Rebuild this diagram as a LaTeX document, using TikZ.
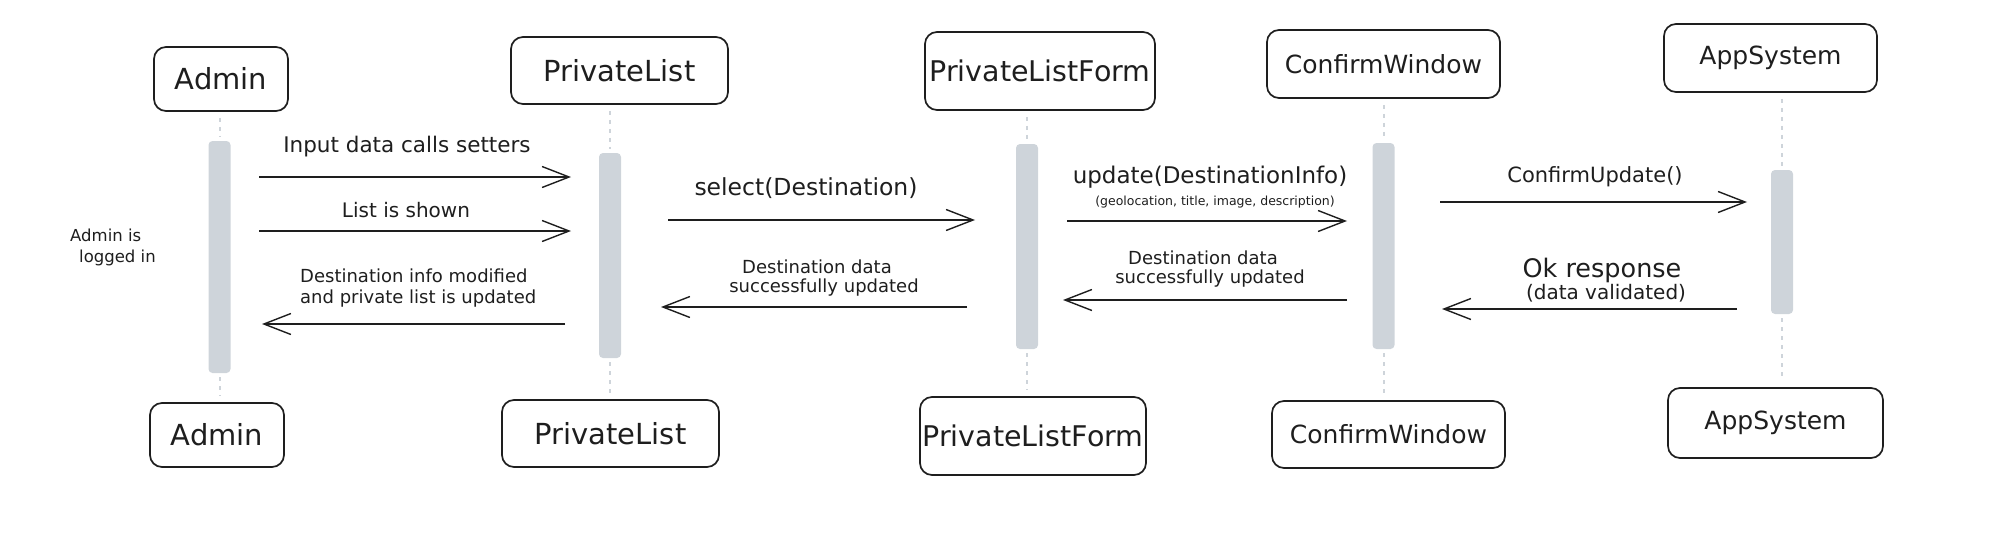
\documentclass[tikz,border=0pt]{standalone}
\usepackage{fontspec}
\setmainfont{DejaVu Sans}
\usetikzlibrary{arrows.meta}
\definecolor{barc}{HTML}{CED4DA}
\definecolor{ink}{HTML}{1E1E1E}
\begin{document}
\begin{tikzpicture}[x=1pt,y=-1pt,
  actor/.style={draw=ink, line width=1.7pt, rounded corners=12pt, inner sep=0pt, text=ink, font=\fontsize{26}{30}\selectfont},
  actbar/.style={fill=barc, draw=none, rounded corners=4pt, inner sep=0pt, minimum width=22pt},
  life/.style={draw=barc, line width=2pt, dash pattern=on 4pt off 5pt},
  msg/.style={draw=ink, line width=1.4pt, -{Straight Barb[length=27pt,width=21pt]}},
  lbl/.style={inner sep=0pt, text=ink, font=\fontsize{20}{24}\selectfont},
  lblbig/.style={inner sep=0pt, text=ink, font=\fontsize{23.5}{28}\selectfont},
  lblmid/.style={inner sep=0pt, text=ink, font=\fontsize{18}{22}\selectfont},
  lblsmall/.style={inner sep=0pt, text=ink, font=\fontsize{12.5}{15}\selectfont},
  note/.style={inner sep=0pt, text=ink, font=\fontsize{16.5}{20}\selectfont}]
\useasboundingbox (0,0) rectangle (1989,533);

% top actors
\node[actor, minimum width=134pt, minimum height=64pt, font=\fontsize{29}{34}\selectfont] (a1) at (221,79) {Admin};
\node[actor, minimum width=217pt, minimum height=67pt, font=\fontsize{29}{34}\selectfont] (a2) at (619.5,70.5) {PrivateList};
\node[actor, minimum width=230pt, minimum height=78pt, font=\fontsize{28.5}{34}\selectfont] (a3) at (1040,71) {PrivateListForm};
\node[actor, minimum width=233pt, minimum height=68pt, font=\fontsize{25}{30}\selectfont] (a4) at (1383.5,64) {ConfirmWindow};
\node[actor, minimum width=213pt, minimum height=68pt, font=\fontsize{25}{30}\selectfont] (a5) at (1770.5,58) {AppSystem};

% bottom actors
\node[actor, minimum width=134pt, minimum height=64pt, font=\fontsize{29}{34}\selectfont] (b1) at (217,435) {Admin};
\node[actor, minimum width=217pt, minimum height=67pt, font=\fontsize{29}{34}\selectfont] (b2) at (610.5,433.5) {PrivateList};
\node[actor, minimum width=226pt, minimum height=78pt, font=\fontsize{28.5}{34}\selectfont] (b3) at (1033,436) {PrivateListForm};
\node[actor, minimum width=233pt, minimum height=67pt, font=\fontsize{25}{30}\selectfont] (b4) at (1388.5,434.5) {ConfirmWindow};
\node[actor, minimum width=215pt, minimum height=70pt, font=\fontsize{25}{30}\selectfont] (b5) at (1775.5,423) {AppSystem};

% activation bars
\node[actbar, minimum height=232pt] (r1) at (219.5,257) {};
\node[actbar, minimum height=205pt] (r2) at (610,255.5) {};
\node[actbar, minimum height=205pt] (r3) at (1027,246.5) {};
\node[actbar, minimum height=206pt] (r4) at (1383.5,246) {};
\node[actbar, minimum height=144pt] (r5) at (1782,242) {};

% lifelines
\foreach \i in {1,...,5}{
  \draw[life] ([yshift=-6pt]r\i.north |- a\i.south) -- ([yshift=4pt]r\i.north);
  \draw[life] ([yshift=-4pt]r\i.south) -- ([yshift=6pt]r\i.south |- b\i.north);
}

% message end points
\coordinate (m1s) at (259,177);  \coordinate (m1e) at (571,177);
\coordinate (m2s) at (259,231);  \coordinate (m2e) at (571,231);
\coordinate (m3s) at (565,324);  \coordinate (m3e) at (262,324);
\coordinate (m4s) at (668,220);  \coordinate (m4e) at (975,220);
\coordinate (m5s) at (967,307);  \coordinate (m5e) at (661,307);
\coordinate (m6s) at (1067,221); \coordinate (m6e) at (1347,221);
\coordinate (m7s) at (1347,300); \coordinate (m7e) at (1063,300);
\coordinate (m8s) at (1440,202); \coordinate (m8e) at (1747,202);
\coordinate (m9s) at (1737,309); \coordinate (m9e) at (1442,309);

\foreach \i in {1,...,9}{ \draw[msg] (m\i s) -- (m\i e); }

% labels
\node[lbl, font=\fontsize{21.5}{25}\selectfont] (t1) at (407,147) {Input data calls setters};
\node[lbl] (t2) at (406,210) {List is shown};
\node[lblmid, anchor=west] (t3a) at (300,276) {Destination info modified};
\node[lblmid, anchor=west] (t3b) at (300,299) {and private list is updated};
\node[lblbig] (t4) at (806,188) {select(Destination)};
\node[lblmid] (t5a) at (817,267) {Destination data};
\node[lblmid] (t5b) at (824,288) {successfully updated};
\node[lblbig, font=\fontsize{23}{28}\selectfont] (t6a) at (1210,177) {update(DestinationInfo)};
\node[lblsmall] (t6b) at (1215,202) {(geolocation, title, image, description)};
\node[lblmid] (t7a) at (1203,258) {Destination data};
\node[lblmid] (t7b) at (1210,279) {successfully updated};
\node[lbl, font=\fontsize{21}{25}\selectfont] (t8) at (1595,177) {ConfirmUpdate()};
\node[lbl, font=\fontsize{25.5}{30}\selectfont] (t9a) at (1602,270) {Ok response};
\node[lbl] (t9b) at (1606,293) {(data validated)};
\node[note, anchor=west] (n1) at (70,235) {Admin is};
\node[note, anchor=west] (n2) at (79,258) {logged in};
\end{tikzpicture}
\end{document}
